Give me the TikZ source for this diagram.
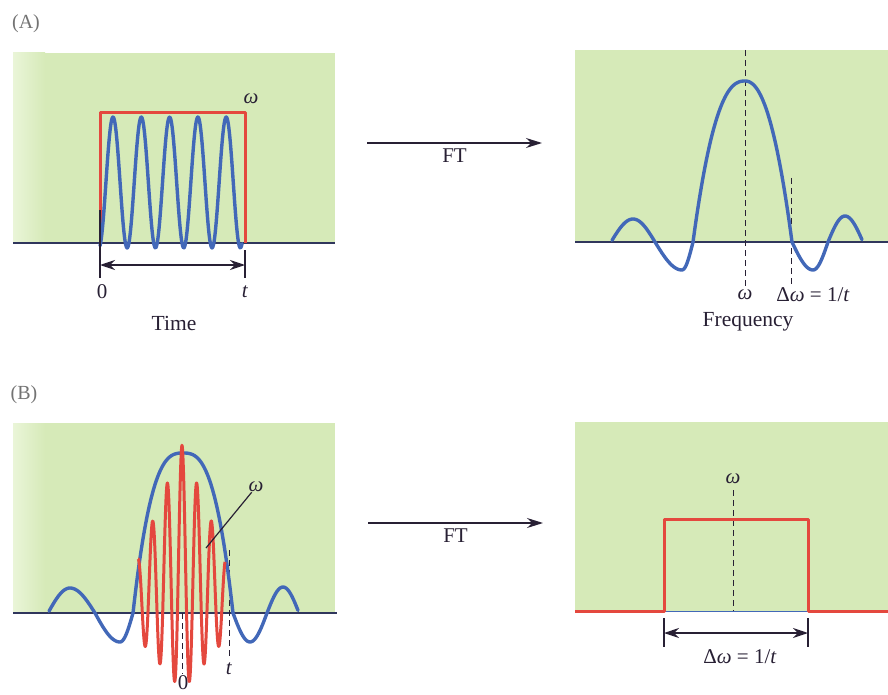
\documentclass[tikz,border=0pt]{standalone}
\usepackage{fontspec}
\setmainfont{Liberation Serif}
\usepackage{tikz}
\usetikzlibrary{arrows.meta, positioning, calc}
\usepackage{xcolor}
\definecolor{panelgreen}{RGB}{214,234,184}
\definecolor{panelfade}{RGB}{234,245,216}
\definecolor{curveblue}{RGB}{66,104,184}
\definecolor{curvered}{RGB}{228,72,62}
\definecolor{inkdark}{RGB}{40,32,52}
\definecolor{tagtext}{RGB}{115,115,115}
\tikzstyle{panel}     = [fill=panelgreen, draw=none]
\tikzstyle{axisline}  = [draw=inkdark!70!curveblue, line width=1.2pt]
\tikzstyle{wave}      = [draw=curveblue, line width=3.4pt, line join=round, line cap=round]
\tikzstyle{pulse}     = [draw=curvered, line width=3pt, line join=round]
\tikzstyle{guide}     = [draw=inkdark, line width=1pt, dash pattern=on 6pt off 4pt]
\tikzstyle{tickline}  = [draw=inkdark, line width=1.2pt]
\tikzstyle{span}      = [draw=inkdark, line width=1.3pt,
                         {Stealth[length=15pt,width=10pt]}-{Stealth[length=15pt,width=10pt]}]
\tikzstyle{ftarrow}   = [draw=inkdark, line width=1.3pt, -{Stealth[length=16pt,width=10pt]}]
\tikzstyle{axistext}  = [text=inkdark, font=\fontsize{21.5}{24}\selectfont, inner sep=0pt]
\tikzstyle{mathtext}  = [text=inkdark, font=\fontsize{21}{24}\selectfont, inner sep=0pt]
\tikzstyle{panetag}   = [text=tagtext, font=\fontsize{20}{24}\selectfont, inner sep=0pt]

\begin{document}
\begin{tikzpicture}[x=1pt, y=-1pt,
    declare function={
      % quarter cosine from an extremum (xe,yh) to a zero (xz,yb)
      lobe(\xx,\xe,\xz,\yb,\yh)=\yb+(\yh-\yb)*cos(90*(\xx-\xe)/(\xz-\xe));
      % flat-topped main lobe
      crest(\xx,\xe,\xz,\yb,\yh,\pw)=\yb+(\yh-\yb)*(1-(abs((\xx-\xe)/(\xz-\xe))+0.0001)^\pw);
    }]
  \useasboundingbox (0,0) rectangle (888,695);

  % Panel tags
  \node (tagA) [panetag] at (26,24)  {(A)};
  \node (tagB) [panetag] at (24,395) {(B)};

  % (A) time domain: rectangular window
  \fill[panel] (13,53) rectangle (335,243);
  \shade[left color=panelfade, right color=panelgreen] (13,53) rectangle (45,243);
  \draw[axisline] (13,243) -- (335,243);
  \draw[pulse] (100,243) -- (100,113) -- (245,113) -- (245,243);
  \draw[wave] plot[domain=100:242, samples=200, smooth]
        (\x, {182.5 - 65.5*cos(12.72*(\x-113))});
  \draw[tickline] (100,210) -- (100,278);
  \draw[tickline] (245,250) -- (245,278);
  \coordinate (spanA0) at (100,265);
  \coordinate (spanA1) at (245,265);
  \draw[span] (spanA0) -- (spanA1);
  \node (omegaA) [mathtext] at (251,99)  {\textit{ω}};
  \node (zeroA)  [mathtext] at (102,292) {0};
  \node (tA)     [mathtext] at (245,292) {\textit{t}};
  \node (timeA)  [axistext] at (174,323) {Time};

  % (A) transform arrow
  \coordinate (ftA0) at (367,143);
  \coordinate (ftA1) at (542,143);
  \draw[ftarrow] (ftA0) -- node[mathtext, below=5pt] {FT} (ftA1);

  % (A) frequency domain: sinc
  \fill[panel] (575,50) rectangle (888,242);
  \draw[axisline] (575,242) -- (888,242);
  \draw[guide] (745,50) -- (745,288);
  \draw[guide] (791,178) -- (791,285);
  \draw[wave]
        plot[domain=612:633, samples=20] (\x, {lobe(\x,633,611,242,219)})
     -- plot[domain=633:655, samples=20] (\x, {lobe(\x,633,655,242,219)})
     -- plot[domain=655:682, samples=20] (\x, {lobe(\x,682,655,242,270)})
     -- plot[domain=682:693, samples=12] (\x, {lobe(\x,682,693,242,270)})
     -- plot[domain=693:745, samples=40] (\x, {crest(\x,745,693,242,81,2.4)})
     -- plot[domain=745:792, samples=40] (\x, {crest(\x,745,792,242,81,2.2)})
     -- plot[domain=792:813, samples=20] (\x, {lobe(\x,813,792,242,270)})
     -- plot[domain=813:828, samples=15] (\x, {lobe(\x,813,828,242,270)})
     -- plot[domain=828:845, samples=15] (\x, {lobe(\x,845,828,242,216)})
     -- plot[domain=845:862, samples=15] (\x, {lobe(\x,845,863,242,216)});
  \node (omegaAf) [mathtext] at (745,295) {\textit{ω}};
  \node (widthA)  [mathtext] at (813,295) {Δ\textit{ω} = 1/\textit{t}};
  \node (freqA)   [axistext] at (748,322) {Frequency};

  % (B) time domain: sinc envelope with carrier
  \fill[panel] (13,423) rectangle (335,613);
  \shade[left color=panelfade, right color=panelgreen] (13,423) rectangle (45,613);
  \draw[axisline] (13,613) -- (337,613);
  \draw[guide] (182,613) -- (182,674);
  \draw[guide] (229,550) -- (229,658);
  \node (zeroB) [mathtext] at (183,683) {0};
  \node (tB)    [mathtext] at (229,669) {\textit{t}};
  \draw[wave]
        plot[domain=49:70,   samples=20] (\x, {lobe(\x,70,48,613,588)})
     -- plot[domain=70:95,   samples=20] (\x, {lobe(\x,70,95,613,588)})
     -- plot[domain=95:120,  samples=20] (\x, {lobe(\x,120,95,613,642)})
     -- plot[domain=120:133, samples=12] (\x, {lobe(\x,120,133,613,642)})
     -- plot[domain=133:183, samples=40] (\x, {crest(\x,183,133,613,453,2.8)})
     -- plot[domain=183:233, samples=40] (\x, {crest(\x,183,233,613,453,2.8)})
     -- plot[domain=233:250, samples=15] (\x, {lobe(\x,250,233,613,642)})
     -- plot[domain=250:267, samples=15] (\x, {lobe(\x,250,267,613,642)})
     -- plot[domain=267:283, samples=15] (\x, {lobe(\x,283,267,613,587)})
     -- plot[domain=283:298, samples=15] (\x, {lobe(\x,283,299,613,587)});
  \draw[pulse] plot[domain=138:225, samples=300, smooth]
        (\x, {613 - 168*(1-abs(\x-182)/65)*(0.27+0.73*cos(24.41*(\x-182)))});
  \node (omegaB) [mathtext] at (256,487) {\textit{ω}};
  \coordinate (leadB) at (206,548);
  \draw[tickline] (leadB) -- (omegaB);

  % (B) transform arrow
  \coordinate (ftB0) at (368,523);
  \coordinate (ftB1) at (543,523);
  \draw[ftarrow] (ftB0) -- node[mathtext, below=5pt] {FT} (ftB1);

  % (B) frequency domain: rectangle
  \fill[panel] (575,422) rectangle (888,611);
  \draw[draw=curveblue, line width=1pt] (664,611) -- (808,611);
  \draw[guide] (733,490) -- (733,611);
  \draw[pulse] (575,611) -- (664,611) -- (664,519) -- (808,519)
        -- (808,611) -- (888,611);
  \node (omegaBf) [mathtext] at (733,479) {\textit{ω}};
  \draw[tickline] (664,618) -- (664,647);
  \draw[tickline] (808,618) -- (808,647);
  \coordinate (spanB0) at (664,633);
  \coordinate (spanB1) at (808,633);
  \draw[span] (spanB0) -- (spanB1);
  \node (widthB) [mathtext] at (740,657) {Δ\textit{ω} = 1/\textit{t}};

\end{tikzpicture}
\end{document}
